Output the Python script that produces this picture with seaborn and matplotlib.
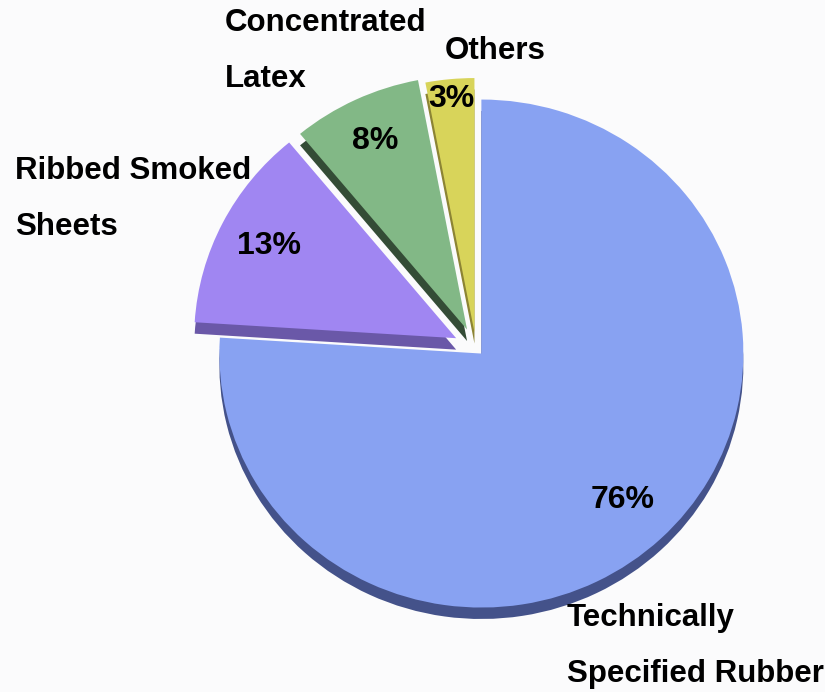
import numpy as np
import matplotlib
matplotlib.use("Agg")
import matplotlib.pyplot as plt
import seaborn as sns

# ---- data ----
categories = ["Technically\nSpecified Rubber", "Ribbed Smoked\nSheets",
              "Concentrated\nLatex", "Others"]
shares = [76, 13, 8, 3]
pct_labels = ["76%", "13%", "8%", "3%"]

# ---- style ----
sns.set_theme(style="white")
plt.rcParams['font.family'] = ['Liberation Sans', 'DejaVu Sans']

colors = ["#88a2f2", "#a086f2", "#82b886", "#d8d45a"]
depth_colors = ["#44528a", "#6a58a8", "#344c36", "#8c8434"]
explode = [0.03, 0.085, 0.08, 0.063]
pct_dist = [0.79, 0.80, 0.82, 0.92]

W, H = 825, 692
cx, cy, Rx, Ry = 476, 348, 262, 254

fig = plt.figure(figsize=(W / 100, H / 100), dpi=100)
fig.patch.set_facecolor("#fbfbfc")
ax = fig.add_axes([0, 0, 1, 1])
ax.set_facecolor("#fbfbfc")

# depth layer (3D edge)
ax.pie(shares, colors=depth_colors, explode=explode, startangle=90,
       counterclock=False, center=(0, -0.045),
       wedgeprops=dict(linewidth=0))
# top layer
wedges, _ = ax.pie(shares, colors=colors, explode=explode, startangle=90,
                   counterclock=False,
                   wedgeprops=dict(linewidth=0))

# percentage labels
for w, lab, d in zip(wedges, pct_labels, pct_dist):
    mid = np.deg2rad((w.theta1 + w.theta2) / 2)
    x0, y0 = w.center
    ax.text(x0 + d * np.cos(mid), y0 + d * np.sin(mid), lab,
            ha="center", va="center", fontsize=23, fontweight="bold",
            color="black")

ax.set_xlim(-cx / Rx, (W - cx) / Rx)
ax.set_ylim(-(H - cy) / Ry, cy / Ry)
ax.set_aspect("auto")
ax.axis("off")

# category labels
label_pos = [(567, 603), (15, 156), (225, 8), (445, 36)]
for cat, (lx, ly) in zip(categories, label_pos):
    fig.text(lx / W, 1 - ly / H, cat, ha="left", va="top", fontsize=22.5,
             fontweight="bold", color="black", linespacing=2.15)

fig.savefig("out.png", dpi=100, facecolor=fig.get_facecolor())
